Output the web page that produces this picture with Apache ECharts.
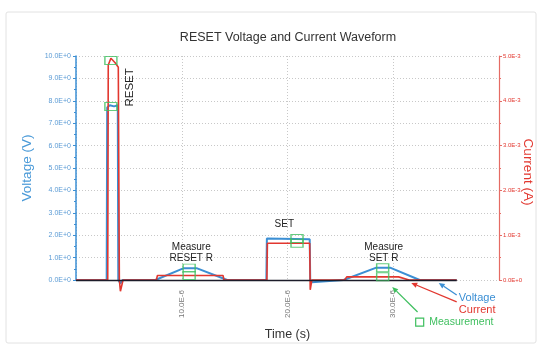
<!DOCTYPE html>
<html>
<head>
<meta charset="utf-8">
<script src="https://cdn.jsdelivr.net/npm/echarts@6/dist/echarts.min.js"></script>
<style>
  html, body { margin: 0; padding: 0; background: #fff; }
  #chart { width: 542px; height: 349px; }
</style>
</head>
<body>
<div id="chart"></div>
<script>
// Voltage trace: time (s) and voltage (V)
const voltageTime = [0, 2.9e-6, 2.95e-6, 3.2e-6, 3.6e-6, 3.95e-6, 4.0e-6, 4.2e-6, 4.4e-6, 7.5e-6, 10.2e-6, 11.4e-6, 14.3e-6, 18.0e-6, 18.05e-6, 22.1e-6, 22.15e-6, 22.3e-6, 25.3e-6, 28.4e-6, 29.7e-6, 32.5e-6, 36.0e-6];
const voltageValue = [0, 0, 7.7, 7.8, 7.75, 7.8, 0, -0.15, 0, 0, 0.53, 0.53, 0, 0, 1.85, 1.82, 0, -0.1, 0, 0.55, 0.55, 0, 0];

// Current trace: time (s) and current (A)
const currentTime = [0, 3.0e-6, 3.05e-6, 3.3e-6, 3.7e-6, 4.0e-6, 4.1e-6, 4.2e-6, 4.45e-6, 7.6e-6, 7.7e-6, 13.9e-6, 14.0e-6, 18.05e-6, 18.1e-6, 22.1e-6, 22.15e-6, 22.3e-6, 25.4e-6, 25.6e-6, 30.5e-6, 31.5e-6, 36.0e-6];
const currentValue = [0, 0, 4.8e-3, 4.95e-3, 4.85e-3, 4.75e-3, 0, -0.25e-3, 0, 0, 0.1e-3, 0.1e-3, 0, 0, 0.82e-3, 0.82e-3, -0.22e-3, 0, 0, 0.07e-3, 0.07e-3, 0, 0];

// Measurement windows
const measureTime = [3.3e-6, 10.7e-6, 20.9e-6, 29.0e-6];
const measureVoltage = [7.75, 0.53, 1.85, 0.55];
const measureCurrent = [4.9e-3, 0.1e-3, 0.82e-3, 0.07e-3];

// Axis ticks
const timeTicks = [10e-6, 20e-6, 30e-6];
const voltageTicks = [0, 1, 2, 3, 4, 5, 6, 7, 8, 9, 10];
const currentTicks = [0, 1e-3, 2e-3, 3e-3, 4e-3, 5e-3];

const BLUE = '#3b8fd4';
const RED = '#e2372f';
const GREEN = '#3fbf5f';
const FONT = 'Liberation Sans, Arial, sans-serif';

const zip = (a, b) => a.map((x, i) => [x, b[i]]);

const chart = echarts.init(document.getElementById('chart'), null, { renderer: 'canvas' });

chart.setOption({
  animation: false,
  backgroundColor: '#fff',
  textStyle: { fontFamily: FONT },
  title: {
    text: 'RESET Voltage and Current Waveform',
    left: 283, top: 26, textAlign: 'center',
    textStyle: { fontSize: 12.5, fontWeight: 'normal', color: '#333', fontFamily: FONT }
  },
  grid: { left: 76, right: 43, top: 56, bottom: 69, containLabel: false, outerBoundsMode: 'none' },
  xAxis: {
    type: 'value', min: 0, max: 40e-6, interval: 10e-6,
    name: 'Time (s)', nameLocation: 'middle', nameGap: 48,
    nameTextStyle: { fontSize: 12.5, color: '#333' },
    axisLine: { show: false },
    axisTick: { show: false },
    axisLabel: {
      rotate: 90, fontSize: 8, color: '#777', margin: 10,
      formatter: v => timeTicks.some(t => Math.abs(t - v) < 1e-9) ? (v * 1e6).toFixed(1) + 'E-6' : ''
    },
    splitLine: { show: true, lineStyle: { color: '#c8c8c8', type: [1, 2], width: 1 } }
  },
  yAxis: [
    {
      type: 'value', min: 0, max: 10, interval: 1, position: 'left',
      name: 'Voltage (V)', nameLocation: 'middle', nameGap: 38, nameRotate: 90,
      nameTextStyle: { fontSize: 13.5, color: '#4a9ad8' },
      axisLine: { show: true, lineStyle: { color: BLUE, width: 1.5 } },
      axisTick: { show: true, length: 3, lineStyle: { color: BLUE } },
      minorTick: { show: true, splitNumber: 2, length: 2, lineStyle: { color: BLUE } },
      axisLabel: {
        fontSize: 7, color: '#5b9bd5', margin: 5,
        formatter: v => voltageTicks.includes(v) ? v.toFixed(1) + 'E+0' : ''
      },
      splitLine: { show: true, lineStyle: { color: '#c8c8c8', type: [1, 2], width: 1 } }
    },
    {
      type: 'value', min: 0, max: 5e-3, interval: 1e-3, position: 'right',
      axisLine: { show: true, lineStyle: { color: '#e56b64', width: 1.2 } },
      axisTick: { show: true, length: 3, lineStyle: { color: '#e56b64' } },
      minorTick: { show: true, splitNumber: 2, length: 2, lineStyle: { color: '#e56b64' } },
      axisLabel: {
        fontSize: 6, color: RED, margin: 4,
        formatter: v => {
          const hit = currentTicks.find(t => Math.abs(t - v) < 1e-9);
          if (hit === undefined) return '';
          return hit === 0 ? '0.0E+0' : (hit * 1e3).toFixed(1) + 'E-3';
        }
      },
      splitLine: { show: false }
    }
  ],
  series: [
    {
      name: 'Voltage', type: 'line', yAxisIndex: 0, clip: false,
      data: zip(voltageTime, voltageValue), showSymbol: false, symbol: 'none',
      lineStyle: { color: BLUE, width: 2 }, z: 3,
      markLine: {
        silent: true, symbol: ['none', 'none'], label: { show: false },
        lineStyle: { color: '#1c1c2a', width: 1.4, type: 'solid' },
        data: [[{ coord: [0, 0] }, { coord: [36e-6, 0] }]]
      }
    },
    {
      name: 'Current', type: 'line', yAxisIndex: 1, clip: false,
      data: zip(currentTime, currentValue), showSymbol: false, symbol: 'none',
      lineStyle: { color: RED, width: 1.6 }, z: 4
    },
    {
      name: 'Measurement V', type: 'scatter', yAxisIndex: 0,
      data: zip(measureTime, measureVoltage), symbol: 'rect', symbolSize: [12, 8],
      itemStyle: { color: 'rgba(0,0,0,0)', borderColor: GREEN, borderWidth: 1.2 }, z: 5
    },
    {
      name: 'Measurement I', type: 'scatter', yAxisIndex: 1,
      data: zip(measureTime, measureCurrent), symbol: 'rect', symbolSize: [12, 8],
      itemStyle: { color: 'rgba(0,0,0,0)', borderColor: GREEN, borderWidth: 1.2 }, z: 5
    }
  ]
});

// Annotations placed in data space (time in s, voltage-axis units)
const px = (t, v) => chart.convertToPixel({ xAxisIndex: 0, yAxisIndex: 0 }, [t, v]);

function textAt(t, v, text, style, extra) {
  const p = px(t, v);
  return Object.assign({
    type: 'text', x: p[0], y: p[1], z: 20,
    style: Object.assign({ text, fontFamily: FONT, fontSize: 10, fill: '#222', align: 'center', verticalAlign: 'middle' }, style)
  }, extra || {});
}

function arrow(tail, head, color) {
  const a = px(tail[0], tail[1]);
  const b = px(head[0], head[1]);
  const ang = Math.atan2(b[1] - a[1], b[0] - a[0]);
  const len = 6, wid = 2.6;
  const bx = b[0] - len * Math.cos(ang), by = b[1] - len * Math.sin(ang);
  const nx = -Math.sin(ang) * wid, ny = Math.cos(ang) * wid;
  return [
    { type: 'line', z: 20, shape: { x1: a[0], y1: a[1], x2: bx, y2: by }, style: { stroke: color, lineWidth: 1.3 } },
    { type: 'polygon', z: 20, shape: { points: [[b[0], b[1]], [bx + nx, by + ny], [bx - nx, by - ny]] }, style: { fill: color } }
  ];
}

// Right-axis title, centred on the current axis
const axisTop = px(0, 10)[1], axisBottom = px(0, 0)[1];
const rightEdge = chart.convertToPixel({ xAxisIndex: 0 }, 40e-6);

const sq = px(32.5e-6, -1.88);
const graphics = [
  { type: 'rect', z: 0, silent: true, shape: { x: 6, y: 12, width: 530, height: 331, r: 2 }, style: { fill: 'none', stroke: '#e2e2e2', lineWidth: 1 } },
  {
    type: 'text', x: rightEdge + 29, y: (axisTop + axisBottom) / 2 + 4, rotation: -Math.PI / 2, z: 20,
    style: { text: 'Current (A)', fontFamily: FONT, fontSize: 13.5, fill: RED, align: 'center', verticalAlign: 'middle' }
  },
  textAt(5.1e-6, 8.6, 'RESET', { fontSize: 11.5 }, { rotation: Math.PI / 2 }),
  textAt(19.7e-6, 2.5, 'SET', {}),
  textAt(10.9e-6, 1.47, 'Measure', {}),
  textAt(10.9e-6, 0.98, 'RESET R', {}),
  textAt(29.1e-6, 1.47, 'Measure', {}),
  textAt(29.1e-6, 0.98, 'SET R', {}),
  ...arrow([36.0e-6, -0.67], [34.3e-6, -0.13], BLUE),
  ...arrow([36.0e-6, -0.98], [31.7e-6, -0.13], RED),
  ...arrow([32.3e-6, -1.43], [29.9e-6, -0.31], GREEN),
  textAt(36.2e-6, -0.8, 'Voltage', { fontSize: 11, fill: BLUE, align: 'left' }),
  textAt(36.2e-6, -1.34, 'Current', { fontSize: 11, fill: RED, align: 'left' }),
  { type: 'rect', z: 20, shape: { x: sq[0] - 4, y: sq[1] - 4, width: 8, height: 8 }, style: { fill: 'none', stroke: GREEN, lineWidth: 1.2 } },
  textAt(33.4e-6, -1.88, 'Measurement', { fontSize: 10.5, fill: GREEN, align: 'left' })
];

chart.setOption({ graphic: graphics });
</script>
</body>
</html>
